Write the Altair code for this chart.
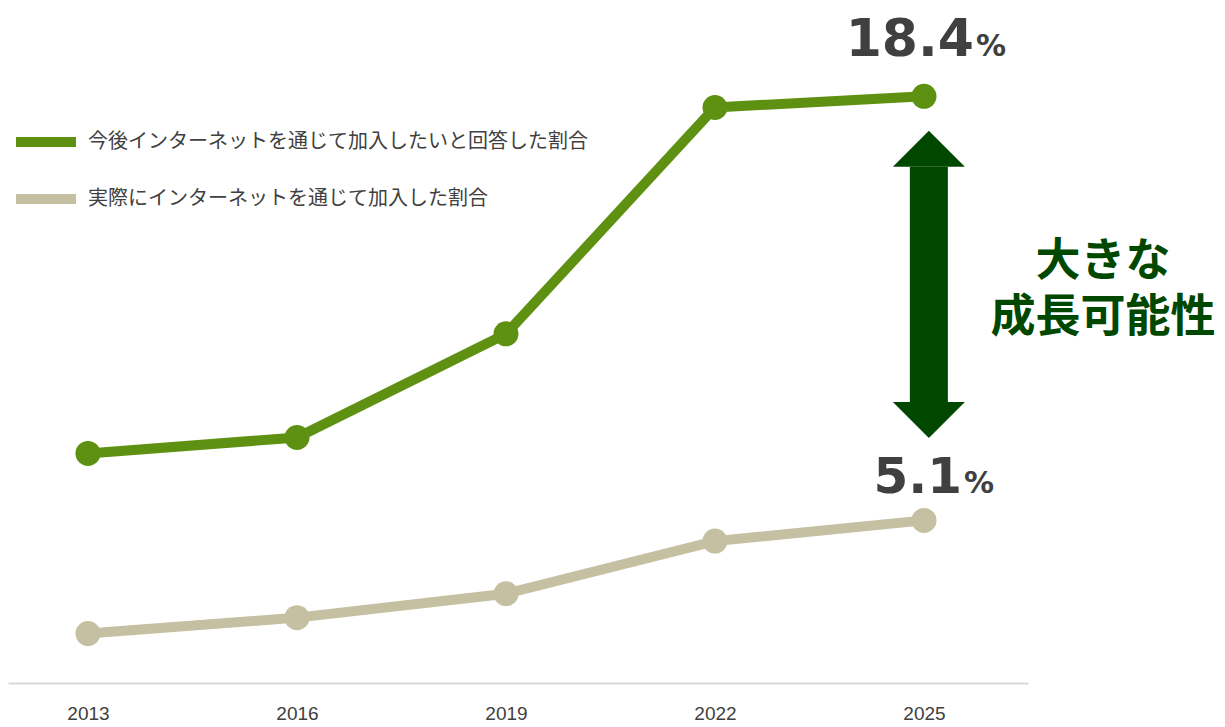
import altair as alt
import pandas as pd

years = [2013, 2016, 2019, 2022, 2025]
series_names = ["今後インターネットを通じて加入したいと回答した割合", "実際にインターネットを通じて加入した割合"]
intent_values = [7.2, 7.7, 10.95, 18.05, 18.4]
actual_values = [1.55, 2.05, 2.8, 4.45, 5.1]
series_colors = ["#5e9111", "#c5c0a1"]

end_labels = ["18.4", "5.1"]
end_values = [18.4, 5.1]
gap_lines = ["大きな", "成長可能性"]

rows = []
for y, v in zip(years, intent_values):
    rows.append({"year": y, "value": v, "series": series_names[0]})
for y, v in zip(years, actual_values):
    rows.append({"year": y, "value": v, "series": series_names[1]})
df = pd.DataFrame(rows)

lab_df = pd.DataFrame({"year": [2025, 2025], "value": end_values, "label": end_labels,
                       "series": series_names})

XDOM = [2011.852, 2026.493]
YDOM = [0, 21.17]
x_enc = alt.X("year:Q", scale=alt.Scale(domain=XDOM, nice=False, zero=False),
              axis=alt.Axis(values=years, format="d", title=None, grid=False, ticks=False,
                            domain=True, domainColor="#d9d9d9", domainWidth=2,
                            labelFontSize=19, labelColor="#404040", labelPadding=21,
                            labelFont="Liberation Sans"))
y_enc = alt.Y("value:Q", scale=alt.Scale(domain=YDOM, nice=False), axis=None)

color = alt.Color("series:N",
                  scale=alt.Scale(domain=series_names, range=series_colors),
                  sort=series_names,
                  legend=alt.Legend(orient="none", legendX=28, legendY=124, title=None,
                                    symbolType="M-3,-0.5L3,-0.5L3,0.5L-3,0.5Z",
                                    symbolSize=400, symbolStrokeWidth=0,
                                    labelFontSize=20, labelColor="#404040",
                                    labelFont="Noto Sans CJK JP", labelOffset=32,
                                    labelLimit=800, rowPadding=37))

base = alt.Chart(df)
lines = base.mark_line(strokeWidth=10).encode(x=x_enc, y=y_enc, color=color,
                                               detail="series:N")
points = base.mark_point(filled=True, size=625, opacity=1, shape="circle").encode(
    x="year:Q", y="value:Q", color=alt.Color("series:N", legend=None,
                                             scale=alt.Scale(domain=series_names, range=series_colors)))

lab = alt.Chart(lab_df)
big_top = lab.transform_filter(alt.datum.label == "18.4").mark_text(
    font="DejaVu Sans", fontWeight="bold", fontSize=52, align="right", baseline="alphabetic",
    dx=50, dy=-40, color="#404040").encode(x="year:Q", y="value:Q", text="label:N")
pct_top = lab.transform_filter(alt.datum.label == "18.4").mark_text(
    font="DejaVu Sans", fontWeight="bold", fontSize=30, align="left", baseline="alphabetic",
    dx=52, dy=-40, color="#404040").encode(x="year:Q", y="value:Q", text=alt.value("%"))
big_bot = lab.transform_filter(alt.datum.label == "5.1").mark_text(
    font="DejaVu Sans", fontWeight="bold", fontSize=50, align="right", baseline="alphabetic",
    dx=38, dy=-27, color="#404040").encode(x="year:Q", y="value:Q", text="label:N")
pct_bot = lab.transform_filter(alt.datum.label == "5.1").mark_text(
    font="DejaVu Sans", fontWeight="bold", fontSize=30, align="left", baseline="alphabetic",
    dx=40, dy=-27, color="#404040").encode(x="year:Q", y="value:Q", text=alt.value("%"))

# arrow between the two end values
arrow_df = pd.DataFrame({"year": [2025.07], "top": [16.19], "bottom": [8.81]})
arrow_color = "#004700"
arr = alt.Chart(arrow_df)
shaft = arr.mark_rule(strokeWidth=38, color=arrow_color).encode(
    x="year:Q", y="top:Q", y2="bottom:Q")
head_up = arr.mark_point(filled=True, size=5184, opacity=1, color=arrow_color,
                         shape="M-1,0L1,0L0,-1Z").encode(x="year:Q", y="top:Q")
head_down = arr.mark_point(filled=True, size=5184, opacity=1, color=arrow_color,
                           shape="M-1,0L1,0L0,1Z").encode(x="year:Q", y="bottom:Q")

mid_value = (end_values[0] + end_values[1]) / 2
note_df = pd.DataFrame({"year": [2025, 2025], "value": [mid_value, mid_value],
                        "text": gap_lines})
note_style = dict(font='"Liberation Sans", "Noto Sans CJK JP"', fontWeight="bold",
                  fontSize=45, color=arrow_color,
                  align="center", baseline="middle", dx=179)
note1 = alt.Chart(note_df).transform_filter(alt.datum.text == gap_lines[0]).mark_text(
    dy=-46, **note_style).encode(x="year:Q", y="value:Q", text="text:N")
note2 = alt.Chart(note_df).transform_filter(alt.datum.text == gap_lines[1]).mark_text(
    dy=10, **note_style).encode(x="year:Q", y="value:Q", text="text:N")

chart = alt.layer(lines, points, big_top, pct_top, big_bot, pct_bot,
                  shaft, head_up, head_down, note1, note2).properties(
    width=1020, height=675, padding=0
).configure_view(stroke=None)

chart.save("out.html", embed_options={"renderer": "svg", "actions": False})
